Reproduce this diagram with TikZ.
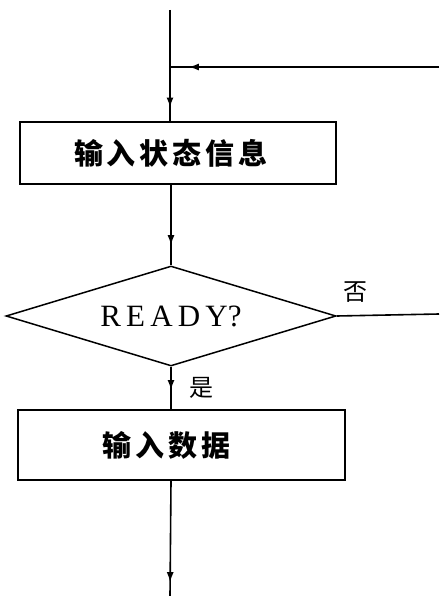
\documentclass[tikz,border=0pt]{standalone}
\usepackage{fontspec}
\setmainfont{Liberation Serif}
\newfontfamily\cjk{Noto Sans CJK SC}
\usetikzlibrary{arrows.meta,decorations.markings,shapes.geometric}
\begin{document}
\begin{tikzpicture}[x=1pt,y=-1pt,line width=1.6pt,
  procbox/.style={draw,line width=1.9pt,inner sep=0pt,font=\cjk\bfseries\fontsize{29}{32}\selectfont},
  decide/.style={draw,diamond,aspect=3.3,line width=1.5pt,inner sep=0pt,font=\fontsize{31}{36}\selectfont},
  lbl/.style={inner sep=0pt,font=\cjk\fontsize{24}{26}\selectfont},
  arrowat/.style={postaction={decorate},decoration={markings,mark=at position #1 with {\arrow{Latex[length=10pt,width=7pt]}}}}]
\path[use as bounding box] (0,0) rectangle (439,596);
\coordinate (top) at (170,10);
\coordinate (join) at (170,67);
\coordinate (rtop) at (439,67);
\coordinate (rmid) at (439,314);
\coordinate (bot) at (170,596);
\node[procbox,minimum width=316pt,minimum height=62pt] (b1) at (178,153) {\hspace*{-14pt}输\hspace{4pt}入\hspace{4pt}状\hspace{4pt}态\hspace{4pt}信\hspace{4pt}息};
\node[decide,minimum width=330pt,minimum height=100pt] (d) at (171,316) {R\,E\,A\,D\,Y?};
\node[procbox,minimum width=327pt,minimum height=70pt] (b2) at (181.5,445) {\hspace*{-30pt}输\hspace{4pt}入\hspace{4pt}数\hspace{4pt}据};
\node[lbl] (no) at (355,292) {否};
\node[lbl] (yes) at (201,388) {是};
\draw (top) -- (join);
\draw[arrowat=0.93] (rtop) -- (join);
\draw[arrowat=0.75] (join) -- (join |- b1.north);
\draw[arrowat=0.75] (b1.south -| d.north) -- (d.north);
\draw[arrowat=0.55] (d.south) -- (d.south |- b2.north);
\draw[arrowat=0.88] (b2.south -| d.south) -- (bot);
\draw (d.east) -- (rmid);
\end{tikzpicture}
\end{document}
